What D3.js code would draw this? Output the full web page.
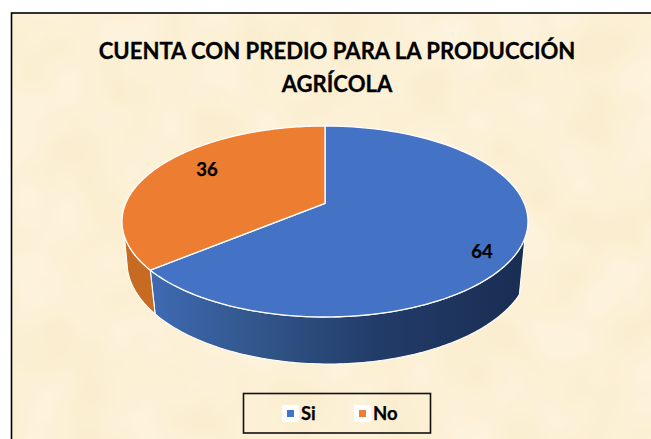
<!DOCTYPE html>
<html><head><meta charset="utf-8">
<script src="https://cdn.jsdelivr.net/npm/d3@7"></script>
<style>html,body{margin:0;padding:0;background:#fff;overflow:hidden}svg{display:block}</style>
</head><body><svg id="c" width="651" height="439"></svg>
<script>
const titleLines = ["CUENTA CON PREDIO PARA LA PRODUCCIÓN", "AGRÍCOLA"];
const categories = ["Si", "No"];
const values = [64, 36];
const colors = ["#4472c4", "#ed7d31"];
const wallColors = ["url(#wallBlue)", "#c76a22"];

const svg = d3.select("#c");
const defs = svg.append("defs");
const g = defs.append("linearGradient").attr("id", "wallBlue").attr("gradientUnits", "userSpaceOnUse")
  .attr("x1", 150).attr("x2", 528).attr("y1", 0).attr("y2", 0);
[[0, "#3f6ab4"], [0.3, "#315588"], [0.6, "#223c69"], [1, "#192d52"]]
  .forEach(s => g.append("stop").attr("offset", s[0]).attr("stop-color", s[1]));

const f = defs.append("filter").attr("id", "paper").attr("x", 0).attr("y", 0).attr("width", 1).attr("height", 1)
  .attr("color-interpolation-filters", "sRGB");
f.append("feTurbulence").attr("type", "fractalNoise").attr("baseFrequency", 0.016).attr("numOctaves", 2).attr("seed", 7);
f.append("feColorMatrix").attr("type", "matrix")
  .attr("values", "0 0 0 0 1  0 0 0 0 0.965  0 0 0 0 0.9  1.3 0 0 0 -0.4");

// Frame
svg.append("rect").attr("x", 11.5).attr("y", 13).attr("width", 660).attr("height", 440)
  .attr("fill", "#fbeed0").attr("stroke", "#000").attr("stroke-width", 1.6);
svg.append("rect").attr("x", 13).attr("y", 14).attr("width", 638).attr("height", 425)
  .attr("fill", "#fff").attr("filter", "url(#paper)");

// Title
svg.selectAll("text.t").data(titleLines).join("text").attr("class", "t")
  .attr("x", 337).attr("y", (d, i) => 58.5 + i * 33).attr("text-anchor", "middle")
  .attr("font-family", "Lato, 'Open Sans', sans-serif").attr("font-weight", 700)
  .attr("font-size", 22.1).attr("fill", "#000").attr("stroke", "#000").attr("stroke-width", 0.3).text(d => d);

// Perspective pie geometry
const topX = d3.scaleLinear().domain([-1, 1]).range([122, 528]);
const topY = d3.scaleLinear().domain([-1, 1]).range([126, 317]);
const botX = d3.scaleLinear().domain([-1, 1]).range([127, 530]);
const botY = d3.scaleLinear().domain([-1, 1]).range([160, 364]);
const c = -0.19; // apex offset caused by the perspective view
const proj = a => {
  const x = Math.sin(a), y = -Math.cos(a), k = 1 + c * y;
  return [x * Math.sqrt(1 - c * c) / k, (y + c) / k];
};
const onTop = a => { const p = proj(a); return [topX(p[0]), topY(p[1])]; };
const onBot = a => { const p = proj(a); return [botX(p[0]), botY(p[1])]; };
const arcs = d3.pie().sort(null)(values);
const line = d3.line();
const steps = (a0, a1) => d3.range(0, 121).map(i => a0 + (a1 - a0) * i / 120);

// Silhouette of the side wall, as angles where it leaves each rim
const wallRight = { top: 1.929, bot: 2.073 };
const wallLeft = { top: 4.374, bot: 4.443 };
arcs.forEach((d, i) => {
  const t0 = Math.max(d.startAngle, wallRight.top), t1 = Math.min(d.endAngle, wallLeft.top);
  const b0 = Math.max(d.startAngle, wallRight.bot), b1 = Math.min(d.endAngle, wallLeft.bot);
  const pts = steps(t0, t1).map(onTop).concat(steps(b0, b1).reverse().map(onBot));
  svg.append("path").attr("d", line(pts) + "Z").attr("fill", wallColors[i])
    .attr("stroke", "#fff").attr("stroke-width", 1.1).attr("stroke-linejoin", "round");
});

// Top faces
const apex = [topX(0), topY(c)];
arcs.forEach((d, i) => {
  const pts = [apex].concat(steps(d.startAngle, d.endAngle).map(onTop));
  svg.append("path").attr("d", line(pts) + "Z").attr("fill", colors[i])
    .attr("stroke", "#fff").attr("stroke-width", 1.3).attr("stroke-linejoin", "round");
});

// Data labels
const labelAt = [[482, 258], [207, 176]];
values.forEach((v, i) => {
  svg.append("text").attr("x", labelAt[i][0]).attr("y", labelAt[i][1]).attr("text-anchor", "middle")
    .attr("font-family", "Lato, sans-serif").attr("font-weight", 700).attr("font-size", 18.5)
    .attr("stroke", "#000").attr("stroke-width", 0.25).text(v);
});

// Legend
svg.append("rect").attr("x", 243.5).attr("y", 393.5).attr("width", 187).attr("height", 39.5)
  .attr("fill", "none").attr("stroke", "#111").attr("stroke-width", 1.6);
const legendX = [282, 354];
categories.forEach((n, i) => {
  svg.append("rect").attr("x", legendX[i]).attr("y", 405).attr("width", 17).attr("height", 17).attr("rx", 2).attr("fill", "#fff");
  svg.append("rect").attr("x", legendX[i] + 5).attr("y", 410).attr("width", 7).attr("height", 7).attr("fill", colors[i]);
  svg.append("text").attr("x", legendX[i] + 19).attr("y", 420).attr("font-family", "Lato, sans-serif")
    .attr("font-weight", 700).attr("font-size", 18.5).attr("stroke", "#000").attr("stroke-width", 0.25).text(n);
});
</script></body></html>
